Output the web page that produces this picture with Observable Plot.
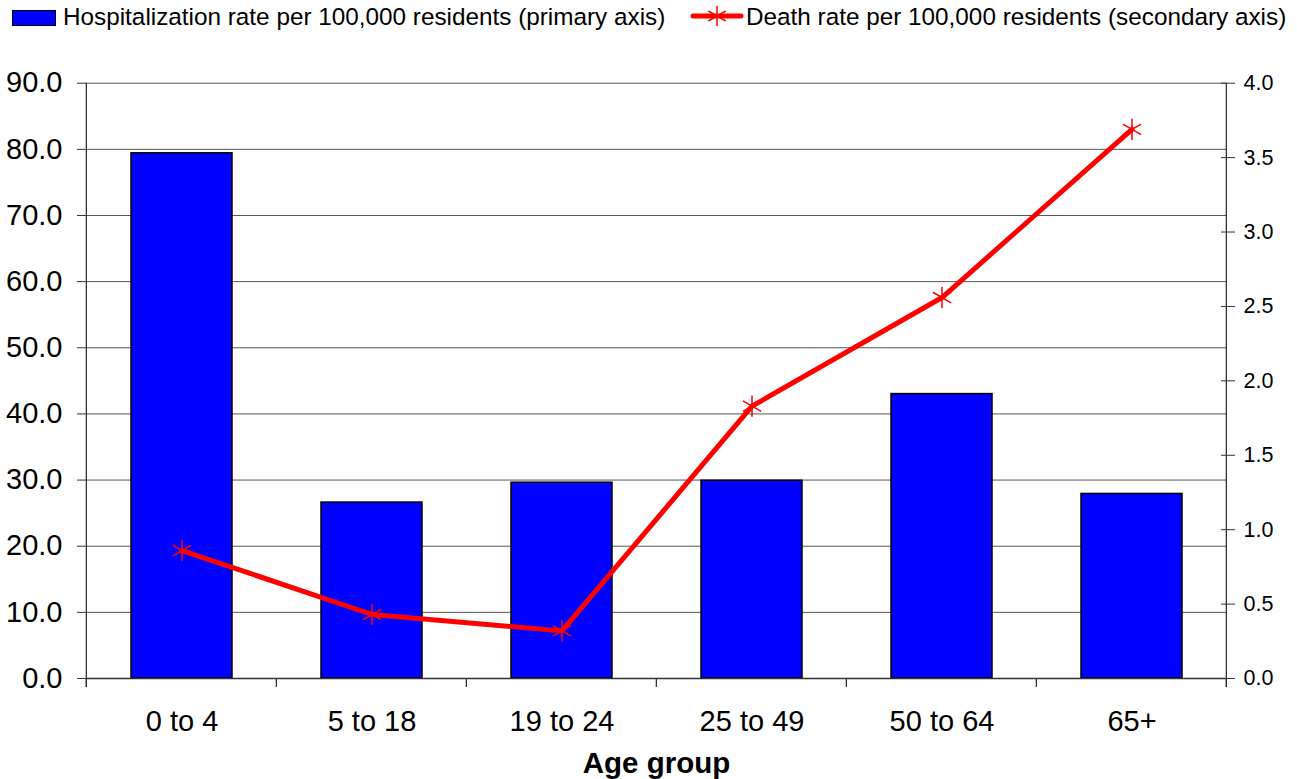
<!DOCTYPE html>
<html>
<head>
<meta charset="utf-8">
<script src="https://cdn.jsdelivr.net/npm/d3@7"></script>
<script src="https://cdn.jsdelivr.net/npm/@observablehq/plot@0.6"></script>
<style>
  html, body { margin: 0; padding: 0; background: #fff; }
  body { width: 1297px; height: 779px; overflow: hidden; font-family: "Liberation Sans", Arial, sans-serif; }
  #legend { position: relative; height: 38px; width: 1297px; }
  #legend .sw { position: absolute; left: 12px; top: 10px; width: 42px; height: 14px; background: #0000ff; border: 1.5px solid #000; }
  #legend .t { position: absolute; top: 5px; font-size: 24.3px; line-height: 24px; color: #000; white-space: nowrap; }
  #legend svg { position: absolute; left: 690px; top: 4px; }
  #chart svg { display: block; }
</style>
</head>
<body>
<div id="legend">
  <div class="sw"></div>
  <div class="t" style="left:63px">Hospitalization rate per 100,000 residents (primary axis)</div>
  <svg width="56" height="26" viewBox="0 0 56 26">
    <line x1="3" y1="12" x2="51" y2="12" stroke="#ff0000" stroke-width="5" stroke-linecap="round"></line>
    <g stroke="#ff0000" stroke-width="1.5" transform="translate(27,12)">
      <line x1="0" y1="-10" x2="0" y2="10"></line>
      <line x1="-8.7" y1="-5" x2="8.7" y2="5"></line>
      <line x1="-8.7" y1="5" x2="8.7" y2="-5"></line>
    </g>
  </svg>
  <div class="t" style="left:746px">Death rate per 100,000 residents (secondary axis)</div>
</div>
<div id="chart"></div>
<script>
const ageGroups = ["0 to 4", "5 to 18", "19 to 24", "25 to 49", "50 to 64", "65+"];
const hospRate = [79.4, 26.6, 29.6, 29.9, 43.0, 27.9];
const deathRate = [0.86, 0.43, 0.32, 1.83, 2.56, 3.69];
const primaryTicks = [0, 10, 20, 30, 40, 50, 60, 70, 80, 90];
const secondaryTicks = [0, 0.5, 1.0, 1.5, 2.0, 2.5, 3.0, 3.5, 4.0];
const primaryMax = 90;
const secondaryMax = 4;
const ratio = primaryMax / secondaryMax;

const data = ageGroups.map((age, i) => ({age, hosp: hospRate[i], death: deathRate[i]}));

const paddingInner = 0.47;

function frameBits(index, scales, values, dimensions) {
  const g = d3.create("svg:g");
  const x = scales.x, y = scales.y;
  const step = x(ageGroups[1]) - x(ageGroups[0]);
  const y0 = y(0);
  const yTop = y(primaryMax);
  const bounds = ageGroups.map(c => x(c) - step * paddingInner / 2);
  bounds.push(bounds[bounds.length - 1] + step);
  for (const b of bounds) {
    g.append("line").attr("x1", b).attr("x2", b).attr("y1", y0).attr("y2", y0 + 9)
      .attr("stroke", "#333").attr("stroke-width", 1.3);
  }
  const xl = bounds[0], xr = bounds[bounds.length - 1];
  g.append("line").attr("x1", xl).attr("x2", xl).attr("y1", yTop).attr("y2", y0 + 9)
    .attr("stroke", "#333").attr("stroke-width", 1.3);
  g.append("line").attr("x1", xr).attr("x2", xr).attr("y1", yTop).attr("y2", y0 + 9)
    .attr("stroke", "#333").attr("stroke-width", 1.3);
  return g.node();
}

const chart = Plot.plot({
  width: 1297,
  height: 741,
  marginTop: 44.7,
  marginBottom: 101,
  marginLeft: 86,
  marginRight: 71,
  style: {fontFamily: "'Liberation Sans', Arial, sans-serif", fontSize: "27px", color: "#000", background: "#fff"},
  x: {domain: ageGroups, paddingInner: paddingInner, paddingOuter: paddingInner / 2, label: null},
  y: {domain: [0, primaryMax], label: null},
  marks: [
    Plot.ruleY(primaryTicks.filter(d => d > 0), {stroke: "#555", strokeWidth: 1}),
    Plot.barY(data, {x: "age", y: "hosp", fill: "#0000ff", stroke: "#000", strokeWidth: 1.5}),
    Plot.ruleY([0], {stroke: "#333", strokeWidth: 1.3}),
    frameBits,
    Plot.axisX({tickSize: 0, tickPadding: 32, fontSize: 29, label: null}),
    Plot.axisY({anchor: "left", ticks: primaryTicks, tickFormat: d => d.toFixed(1), tickSize: 9, tickPadding: 15, fontSize: 29, stroke: "#333", label: null}),
    Plot.axisY({anchor: "right", ticks: secondaryTicks.map(d => d * ratio), tickFormat: d => (d / ratio).toFixed(1), tickSize: 14, tickPadding: 9, dx: -6, fontSize: 21.5, stroke: "#333", label: null}),
    Plot.line(data, {x: "age", y: d => d.death * ratio, stroke: "#ff0000", strokeWidth: 5}),
    Plot.dot(data, {x: "age", y: d => d.death * ratio, symbol: "asterisk", r: 10, stroke: "#ff0000", strokeWidth: 1.5}),
    Plot.text(["Age group"], {frameAnchor: "bottom", dy: 94, lineAnchor: "bottom", fontWeight: "bold", fontSize: 29.5, fill: "#000"})
  ]
});
document.getElementById("chart").appendChild(chart);
</script>
</body>
</html>
